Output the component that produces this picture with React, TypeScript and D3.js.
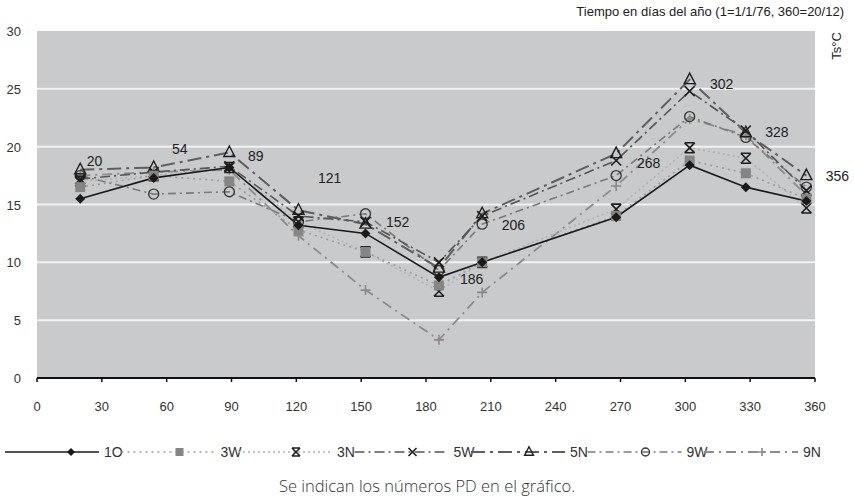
import React from "react";
import * as d3 from "d3";

// Day of year of each PD sample
const days = [20, 54, 89, 121, 152, 186, 206, 268, 302, 328, 356];

// Surface temperature Ts (°C) per station
const s1O = [15.5, 17.3, 18.2, 13.2, 12.5, 8.7, 10.0, 13.9, 18.4, 16.5, 15.3];
const s3W = [16.5, 17.5, 17.0, 12.8, 10.9, 8.0, 10.0, 14.0, 18.8, 17.7, 15.5];
const s3N = [17.0, 17.5, 18.2, 13.5, 10.9, 7.5, 10.0, 14.6, 19.9, 19.0, 14.7];
const s5W = [17.2, 17.8, 18.3, 14.0, 13.5, 10.0, 14.0, 18.8, 24.8, 21.4, 16.2];
const s5N = [18.0, 18.2, 19.5, 14.5, 13.3, 9.5, 14.2, 19.4, 25.8, 21.2, 17.5];
const s9W = [17.5, 15.9, 16.1, 13.5, 14.2, 9.3, 13.3, 17.5, 22.6, 20.8, 16.5];
const s9N = [17.5, 17.8, 18.0, 12.3, 7.6, 3.3, 7.4, 16.6, 22.4, 21.0, 15.8];

const seriesNames = ["1O", "3W", "3N", "5W", "5N", "9W", "9N"];
const seriesValues = [s1O, s3W, s3N, s5W, s5N, s9W, s9N];

// PD number annotations, anchored in data units (day, °C)
const pdLabels = ["20", "54", "89", "121", "152", "186", "206", "268", "302", "328", "356"];
const pdLabelDay = [23, 62.5, 97.6, 130, 161.5, 195.7, 215, 277.6, 311.4, 337, 365];
const pdLabelTemp = [18.3, 19.4, 18.8, 16.9, 13.05, 8.1, 12.8, 18.15, 25.0, 20.8, 17.0];

const xTicks = [0, 30, 60, 90, 120, 150, 180, 210, 240, 270, 300, 330, 360];
const yTicks = [0, 5, 10, 15, 20, 25, 30];

const titleText = "Tiempo en días del año (1=1/1/76, 360=20/12)";
const yLabel = "Ts°C";
const caption = "Se indican los números PD en el gráfico.";

type Style = { color: string; width: number; dash: string; marker: string; mColor: string };
const styles: Style[] = [
  { color: "#1a1a1a", width: 1.6, dash: "", marker: "diamond", mColor: "#1a1a1a" },
  { color: "#9c9c9c", width: 1.6, dash: "2,4", marker: "square", mColor: "#858585" },
  { color: "#b2b2b2", width: 1.6, dash: "2,3", marker: "star", mColor: "#1e1e1e" },
  { color: "#555555", width: 1.6, dash: "10,4,2,4", marker: "x", mColor: "#1e1e1e" },
  { color: "#5e5e5e", width: 2, dash: "14,5,3,5", marker: "triangle", mColor: "#1e1e1e" },
  { color: "#7a7a7a", width: 1.6, dash: "8,4,2,4", marker: "circle", mColor: "#3a3a3a" },
  { color: "#8c8c8c", width: 1.8, dash: "10,5,2,5", marker: "plus", mColor: "#8a8a8a" },
];

const FONT = "'Liberation Sans Narrow', 'Liberation Sans', Arial, sans-serif";

function Marker({ kind, x, y, color, s = 1 }: { kind: string; x: number; y: number; color: string; s?: number }) {
  const r = 5 * s;
  switch (kind) {
    case "diamond":
      return <path d={`M${x},${y - r}L${x + r},${y}L${x},${y + r}L${x - r},${y}Z`} fill={color} />;
    case "square":
      return <rect x={x - r} y={y - r} width={2 * r} height={2 * r} fill={color} />;
    case "star":
      return (
        <path
          d={`M${x - r},${y - r}L${x + r},${y + r}M${x + r},${y - r}L${x - r},${y + r}M${x - r},${y - r}L${x + r},${y - r}M${x - r},${y + r}L${x + r},${y + r}`}
          stroke={color}
          strokeWidth={1.6}
          fill="none"
        />
      );
    case "x":
      return (
        <path
          d={`M${x - r},${y - r}L${x + r},${y + r}M${x + r},${y - r}L${x - r},${y + r}`}
          stroke={color}
          strokeWidth={1.6}
          fill="none"
        />
      );
    case "triangle":
      return (
        <path
          d={`M${x},${y - r * 1.3}L${x + r * 1.1},${y + r * 0.8}L${x - r * 1.1},${y + r * 0.8}Z`}
          stroke={color}
          strokeWidth={1.4}
          fill="none"
        />
      );
    case "circle":
      return <circle cx={x} cy={y} r={r} stroke={color} strokeWidth={1.4} fill="none" />;
    case "plus":
      return (
        <path
          d={`M${x - r},${y}L${x + r},${y}M${x},${y - r}L${x},${y + r}`}
          stroke={color}
          strokeWidth={1.6}
          fill="none"
        />
      );
    default:
      return null;
  }
}

export default function App() {
  const width = 854;
  const height = 498;
  const left = 37;
  const right = 815;
  const top = 31;
  const bottom = 378;

  const x = d3.scaleLinear().domain([0, 360]).range([left, right]);
  const y = d3.scaleLinear().domain([0, 30]).range([bottom, top]);

  const line = d3
    .line<number>()
    .x((_, i) => x(days[i]))
    .y((v) => y(v));

  const drawOrder = [6, 5, 4, 3, 2, 1, 0];
  const legendY = 452;

  return (
    <svg
      width={width}
      height={height}
      style={{ position: "absolute", left: 0, top: 0, background: "#fff" }}
      fontFamily={FONT}
    >
      <rect x={left} y={top} width={right - left} height={bottom - top} fill="#c9cacc" />
      {yTicks
        .filter((t) => t > 0 && t < 30)
        .map((t) => (
          <line key={t} x1={left} x2={right} y1={y(t)} y2={y(t)} stroke="#f2f2f2" strokeWidth={2} />
        ))}
      {yTicks.map((t) => (
        <text key={t} x={21} y={y(t) + 5} textAnchor="end" fontSize={13} fill="#333">
          {t}
        </text>
      ))}
      <line x1={left} x2={right} y1={bottom} y2={bottom} stroke="#111" strokeWidth={2} />
      {xTicks.map((t) => (
        <g key={t}>
          <line x1={x(t)} x2={x(t)} y1={bottom} y2={bottom + 4} stroke="#111" strokeWidth={1.5} />
          <text x={x(t)} y={bottom + 33} textAnchor="middle" fontSize={13} fill="#333">
            {t}
          </text>
        </g>
      ))}

      {drawOrder.map((i) => (
        <path
          key={"l" + i}
          d={line(seriesValues[i]) || ""}
          fill="none"
          stroke={styles[i].color}
          strokeWidth={styles[i].width}
          strokeDasharray={styles[i].dash || undefined}
        />
      ))}
      {drawOrder.map((i) =>
        seriesValues[i].map((v, j) => (
          <Marker
            key={`m${i}-${j}`}
            kind={styles[i].marker}
            x={x(days[j])}
            y={y(v)}
            color={styles[i].mColor}
          />
        ))
      )}

      {pdLabels.map((t, i) => (
        <text key={"pd" + i} x={x(pdLabelDay[i])} y={y(pdLabelTemp[i])} fontSize={14} fill="#222">
          {t}
        </text>
      ))}

      <text x={844} y={16} textAnchor="end" fontSize={13} fill="#222">
        {titleText}
      </text>
      <text
        transform={`translate(841,46) rotate(-90)`}
        textAnchor="middle"
        fontSize={13}
        fill="#222"
      >
        {yLabel}
      </text>

      {seriesNames.map((name, i) => {
        const sx = 5 + i * 116.5;
        const st = styles[i];
        const sampleW = 94;
        return (
          <g key={"lg" + i}>
            <line
              x1={sx}
              x2={sx + sampleW}
              y1={legendY}
              y2={legendY}
              stroke={st.color}
              strokeWidth={st.width}
              strokeDasharray={st.dash || undefined}
            />
            <Marker kind={st.marker} x={sx + (i === 0 ? 66 : 58)} y={legendY} color={st.mColor} s={0.8} />
            <text x={sx + sampleW + 5} y={legendY + 5} fontSize={14} fill="#333">
              {name}
            </text>
          </g>
        );
      })}

      <text
        x={427}
        y={492}
        textAnchor="middle"
        fontSize={16.5}
        fontWeight={300}
        fill="#333"
        fontFamily="'Open Sans', Lato, sans-serif"
      >
        {caption}
      </text>
    </svg>
  );
}
